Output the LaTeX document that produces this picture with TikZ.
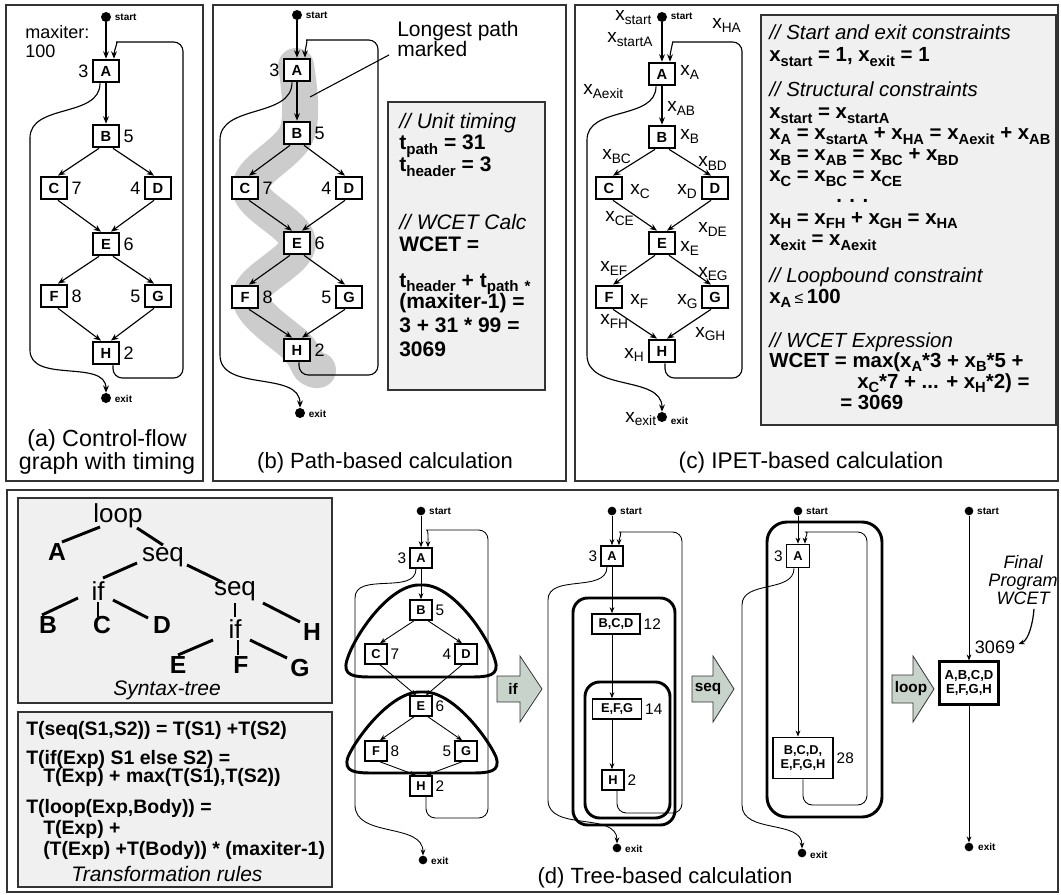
\documentclass[tikz,border=0pt]{standalone}
\usepackage{fontspec}
\setmainfont{Liberation Sans}
\usetikzlibrary{arrows.meta,calc}
\definecolor{frm}{gray}{0.2}
\definecolor{boxg}{gray}{0.94}
\definecolor{bandg}{gray}{0.8}
\definecolor{arrg}{RGB}{200,211,204}
\newcommand\lsb[1]{\raisebox{-0.2em}{\scalebox{0.72}{#1}}}
\newcommand\fs[1]{\fontsize{#1}{#1}\selectfont}
\newcommand\cfgnodes[9]{%
 \node[blk] (#1A) at (#2,#4) {A};
 \node[blk] (#1B) at (#2,#5) {B};
 \node[blk] (#1C) at ({#2-#3},#6) {C};
 \node[blk] (#1D) at ({#2+#3},#6) {D};
 \node[blk] (#1E) at (#2,#7) {E};
 \node[blk] (#1F) at ({#2-#3},#8) {F};
 \node[blk] (#1G) at ({#2+#3},#8) {G};
 \node[blk] (#1H) at (#2,#9) {H};}
\newcommand\cfgw[9]{%
 \node[wt,anchor=east] (#1wA) at (#1A.west) {#2};
 \node[wt,anchor=west] (#1wB) at (#1B.east) {#3};
 \node[wt,anchor=west] (#1wC) at (#1C.east) {#4};
 \node[wt,anchor=east] (#1wD) at (#1D.west) {#5};
 \node[wt,anchor=west] (#1wE) at (#1E.east) {#6};
 \node[wt,anchor=west] (#1wF) at (#1F.east) {#7};
 \node[wt,anchor=east] (#1wG) at (#1G.west) {#8};
 \node[wt,anchor=west] (#1wH) at (#1H.east) {#9};}
\newcommand\cfgedges[1]{%
 \draw[arr] (#1A) -- (#1B);
 \draw[arr] ($(#1B.south)+(-7,0)$) -- ($(#1C.north)+(4,0)$);
 \draw[arr] ($(#1B.south)+(7,0)$) -- ($(#1D.north)+(-4,0)$);
 \draw[arr] ($(#1C.south)+(4,0)$) -- ($(#1E.north)+(-5,0)$);
 \draw[arr] ($(#1D.south)+(-4,0)$) -- ($(#1E.north)+(5,0)$);
 \draw[arr] ($(#1E.south)+(-7,0)$) -- ($(#1F.north)+(4,0)$);
 \draw[arr] ($(#1E.south)+(7,0)$) -- ($(#1G.north)+(-4,0)$);
 \draw[arr] ($(#1F.south)+(4,0)$) -- ($(#1H.north)+(-5,0)$);
 \draw[arr] ($(#1G.south)+(-4,0)$) -- ($(#1H.north)+(5,0)$);}
\tikzset{
 frame/.style={draw=frm, line width=1.4pt},
 tbox/.style={draw=frm, fill=boxg, line width=1.1pt},
 blk/.style={draw, line width=1.5pt, minimum width=19.5pt, minimum height=17pt, inner sep=0pt, font=\fs{11}\bfseries, fill=white},
 sblk/.style={draw, line width=1.2pt, minimum width=16.5pt, minimum height=15pt, inner sep=0pt, font=\fs{9.6}\bfseries, fill=white},
 wt/.style={inner sep=2.5pt, font=\fs{13.5}},
 swt/.style={inner sep=2pt, font=\fs{11.5}},
 dot/.style={circle, fill=black, inner sep=0pt, minimum size=7.5pt},
 sdot/.style={circle, fill=black, inner sep=0pt, minimum size=6.5pt},
 se/.style={font=\fs{7.5}\bfseries, inner sep=1pt, anchor=west},
 arr/.style={-{Stealth[length=5.5pt,width=4.4pt]}, line width=0.85pt},
 sarr/.style={-{Stealth[length=4.5pt,width=3.6pt]}, line width=0.65pt},
 rc/.style={rounded corners=7pt},
 bt/.style={font=\fs{15.75}, inner sep=0pt, anchor=base west},
 ct/.style={font=\fs{15.3}, inner sep=0pt, anchor=base west},
 xl/.style={font=\fs{14.25}, inner sep=0pt, anchor=base west},
 tl/.style={line width=2.2pt},
 tin/.style={font=\fs{19.5}, inner sep=0pt},
 tleaf/.style={font=\fs{18.5}\bfseries, inner sep=0pt},
 rt/.style={font=\fs{14.6}\bfseries, inner sep=0pt, anchor=base west},
 thk/.style={line width=2.2pt, rounded corners=11pt},
 blob/.style={line width=2.2pt},
 barr/.style={draw=frm, fill=arrg, line width=0.6pt},
 capt/.style={inner sep=0pt, align=center},
}
\begin{document}
\begin{tikzpicture}[x=0.75pt,y=-0.75pt]
\useasboundingbox (0,0) rectangle (1061,895);
% frames
\draw[frame] (6,5) rectangle (203,481);
\draw[frame] (213,5) rectangle (566,481);
\draw[frame] (575,5) rectangle (1058,481);
\draw[frame] (7,490) rectangle (1058,892);

%% ---------------- panel (a)
\node[dot] (aS) at (106,17) {};
\node[se] (aSl) at ($(aS.east)+(2,0)$) {start};
\node[wt,anchor=base west,inner sep=0pt] (am1) at (25,39) {maxiter:};
\node[wt,anchor=base west,inner sep=0pt] (am2) at (25,58) {100};
\cfgnodes{a}{106}{52}{71}{136}{188}{244}{296}{353}
\cfgw{a}{3}{5}{7}{4}{6}{8}{5}{2}
\node[dot] (aX) at (106,398) {};
\node[se] (aXl) at ($(aX.east)+(2,1)$) {exit};
\draw[arr] (aS) -- (aA);
\cfgedges{a}
\draw[arr,rc] ($(aH.south)+(7,0)$) |- (183,378) |- (126,42) to[out=180,in=90] ($(aA.north)+(8,0)$);
\draw[arr] ($(aA.south)+(-6,0)$) to[out=-90,in=90] (30,138) -- (30,350) to[out=-90,in=90] (aX.north);
\node[capt,font=\fontsize{17.5}{17.3}\selectfont] (acap) at (107,452) {(a) Control-flow\\graph with timing};

%% ---------------- panel (b)
\draw[line width=27pt, bandg, line cap=round, line join=round] plot[smooth, tension=0.6] coordinates {(296,66) (297,133) (250,188) (298,243) (250,297) (298,348) (310,367) (318,370)};
\node[dot] (bS) at (297,15) {};
\node[se] (bSl) at ($(bS.east)+(2,0)$) {start};
\cfgnodes{b}{297}{52}{70}{133}{188}{243}{297}{350}
\cfgw{b}{3}{5}{7}{4}{6}{8}{5}{2}
\node[dot] (bX) at (300,413) {};
\node[se] (bXl) at ($(bX.east)+(2,1)$) {exit};
\draw[arr] (bS) -- (bA);
\cfgedges{b}
\draw[arr,rc] ($(bH.south)+(2,0)$) |- (378,375) |- (316,40) to[out=180,in=90] ($(bA.north)+(8,0)$);
\draw[arr] ($(bA.south)+(-5,0)$) to[out=-90,in=90] (220,140) -- (220,355) to[out=-90,in=90] (bX.north);
\node[font=\fontsize{15.75}{15}\selectfont, align=left, inner sep=0pt, anchor=north west] (blp) at (397,21) {Longest path\\marked};
\coordinate (bband) at (310,97);
\draw[line width=0.8pt] ($(blp.south west)+(-8,-2)$) -- (bband);
\draw[tbox] (388,102) rectangle (545,390);
\node[bt] (b1) at (399,129) {\itshape // Unit timing};
\node[bt] (b2) at (399,150) {\bfseries t\lsb{path} = 31};
\node[bt] (b3) at (399,172) {\bfseries t\lsb{header} = 3};
\node[bt] (b4) at (399,229) {\itshape // WCET Calc};
\node[bt] (b5) at (399,252) {\bfseries WCET =};
\node[bt] (b6) at (399,287) {\bfseries t\lsb{header} + t\lsb{path} \lsb{*}};
\node[bt] (b7) at (399,309) {\bfseries (maxiter-1) =};
\node[bt] (b8) at (399,332) {\bfseries 3 + 31 * 99 =};
\node[bt] (b9) at (399,356) {\bfseries 3069};
\node[capt,font=\fs{16.5}] (bcap) at (385,463) {(b) Path-based calculation};

%% ---------------- panel (c)
\node[dot] (cS) at (662,17) {};
\node[se] (cSl) at ($(cS.east)+(2,-1)$) {start};
\cfgnodes{c}{662}{53}{74}{137}{188}{243}{297}{351}
\node[dot] (cX) at (662,417) {};
\node[se] (cXl) at ($(cX.east)+(2,4)$) {exit};
\draw[arr] (cS) -- (cA);
\cfgedges{c}
\draw[arr,rc] ($(cH.south)+(3,0)$) |- (742,378) |- (682,42) to[out=180,in=90] ($(cA.north)+(8,0)$);
\draw[arr] ($(cA.south)+(-6,0)$) to[out=-90,in=90] (587,140) -- (587,355) to[out=-90,in=90] (cX.north);
\node[xl] (cl1) at (615,21) {x\lsb{start}};
\node[xl] (cl2) at (607,43) {x\lsb{startA}};
\node[xl] (cl3) at (712,29) {x\lsb{HA}};
\node[xl] (cl4) at (680,76) {x\lsb{A}};
\node[xl] (cl5) at (583,95) {x\lsb{Aexit}};
\node[xl] (cl6) at (667,112) {x\lsb{AB}};
\node[xl] (cl7) at (680,140) {x\lsb{B}};
\node[xl] (cl8) at (602,160) {x\lsb{BC}};
\node[xl] (cl9) at (698,167) {x\lsb{BD}};
\node[xl] (cl10) at (630,195) {x\lsb{C}};
\node[xl] (cl11) at (677,195) {x\lsb{D}};
\node[xl] (cl12) at (605,222) {x\lsb{CE}};
\node[xl] (cl13) at (698,233) {x\lsb{DE}};
\node[xl] (cl14) at (680,252) {x\lsb{E}};
\node[xl] (cl15) at (600,272) {x\lsb{EF}};
\node[xl] (cl16) at (698,277) {x\lsb{EG}};
\node[xl] (cl17) at (630,305) {x\lsb{F}};
\node[xl] (cl18) at (677,305) {x\lsb{G}};
\node[xl] (cl19) at (600,325) {x\lsb{FH}};
\node[xl] (cl20) at (695,337) {x\lsb{GH}};
\node[xl] (cl21) at (624,358) {x\lsb{H}};
\node[xl] (cl22) at (625,422) {x\lsb{exit}};
\draw[tbox] (761,15) rectangle (1056,425);
\node[ct] (c1) at (769,40) {\itshape // Start and exit constraints};
\node[ct] (c2) at (769,62) {\bfseries x\lsb{start} = 1, x\lsb{exit} = 1};
\node[ct] (c3) at (769,97) {\itshape // Structural constraints};
\node[ct] (c4) at (769,119) {\bfseries x\lsb{start} = x\lsb{startA}};
\node[ct] (c5) at (769,140) {\bfseries x\lsb{A} = x\lsb{startA} + x\lsb{HA} = x\lsb{Aexit} + x\lsb{AB}};
\node[ct] (c6) at (769,161) {\bfseries x\lsb{B} = x\lsb{AB} = x\lsb{BC} + x\lsb{BD}};
\node[ct] (c7) at (769,182) {\bfseries x\lsb{C} = x\lsb{BC} = x\lsb{CE}};
\node[ct] (c8) at (836,203) {\bfseries . . .};
\node[ct] (c9) at (769,224) {\bfseries x\lsb{H} = x\lsb{FH} + x\lsb{GH} = x\lsb{HA}};
\node[ct] (c10) at (769,246) {\bfseries x\lsb{exit} = x\lsb{Aexit}};
\node[ct] (c11) at (769,282) {\itshape // Loopbound constraint};
\node[ct] (c12) at (769,303) {\bfseries x\lsb{A}\,{\mdseries\fontsize{12}{12}\selectfont ≤}\,100};
\node[ct] (c13) at (769,347) {\itshape // WCET Expression};
\node[ct] (c14) at (769,367) {\bfseries WCET = max(x\lsb{A}*3 + x\lsb{B}*5 +};
\node[ct] (c15) at (857,388) {\bfseries x\lsb{C}*7 + ... + x\lsb{H}*2) =};
\node[ct] (c16) at (840,409) {\bfseries = 3069};
\node[capt,font=\fs{17}] (ccap) at (811,463) {(c) IPET-based calculation};

%% ---------------- panel (d): syntax tree
\draw[tbox] (18,498) rectangle (332,703);
\node[tin] (tloop) at (118,516) {loop};
\node[tleaf] (tA) at (57,552) {A};
\node[tin] (tseq) at (163,557) {seq};
\node[tin] (tif) at (98,591) {if};
\node[tin] (tseq2) at (235,591) {seq};
\node[tleaf] (tB) at (48,625) {B};
\node[tleaf] (tC) at (102,625) {C};
\node[tleaf] (tD) at (162,625) {D};
\node[tin] (tif2) at (235,629) {if};
\node[tleaf] (tH) at (312,632) {H};
\node[tleaf] (tE) at (178,665) {E};
\node[tleaf] (tF) at (241,665) {F};
\node[tleaf] (tG) at (300,668) {G};
\draw[tl] ($(tloop)+(-18,11)$) -- ($(tA)+(5,-10)$);
\draw[tl] ($(tloop)+(19,12)$) -- ($(tseq)+(0,-12)$);
\draw[tl] ($(tseq)+(-26,6)$) -- ($(tif)+(5,-13)$);
\draw[tl] ($(tseq)+(24,8)$) -- ($(tseq2)+(-13,-9)$);
\draw[tl] ($(tif)+(-20,7)$) -- ($(tB)+(-6,-10)$);
\draw[tl] ($(tif)+(0,11)$) -- ($(tC)+(-4,-8)$);
\draw[tl] ($(tif)+(15,9)$) -- ($(tD)+(-14,-7)$);
\draw[tl] ($(tseq2)+(0,12)$) -- ($(tif2)+(0,-12)$);
\draw[tl] ($(tseq2)+(28,12)$) -- ($(tH)+(-12,-10)$);
\draw[tl] ($(tif2)+(-22,11)$) -- ($(tE)+(0,-10)$);
\draw[tl] ($(tif2)+(3,11)$) -- ($(tF)+(-3,-10)$);
\draw[tl] ($(tif2)+(15,11)$) -- ($(tG)+(-13,-10)$);
\node[font=\fs{15.75}\itshape, inner sep=0pt, anchor=base] (tcap) at (167,695) {Syntax-tree};
% transformation rules
\draw[tbox] (18,712) rectangle (332,887);
\node[rt] (r1) at (26,735) {T(seq(S1,S2)) = T(S1) +T(S2)};
\node[rt] (r2) at (26,764) {T(if(Exp) S1 else S2) =};
\node[rt] (r3) at (43,782) {T(Exp) + max(T(S1),T(S2))};
\node[rt] (r4) at (26,813) {T(loop(Exp,Body)) =};
\node[rt] (r5) at (43,834) {T(Exp) +};
\node[rt] (r6) at (43,855) {(T(Exp) +T(Body)) * (maxiter-1)};
\node[font=\fs{15.75}\itshape, inner sep=0pt, anchor=base] (rcap) at (167,881) {Transformation rules};

%% graph d1
\begin{scope}[blk/.style={sblk}, wt/.style={swt}, arr/.style={sarr}]
\node[sdot] (dS) at (421,511) {};
\node[se] (dSl) at ($(dS.east)+(2,0)$) {start};
\cfgnodes{d}{421}{45}{558}{610}{654}{706}{751}{786}
\cfgw{d}{3}{5}{7}{4}{6}{8}{5}{2}
\node[sdot] (dX) at (423,860) {};
\node[se] (dXl) at ($(dX.east)+(2,1)$) {exit};
\draw[arr] (dS) -- (dA);
\cfgedges{d}
\draw[arr,rc] ($(dH.south)+(5,0)$) |- (488,818) |- (436,530) to[out=180,in=90] ($(dA.north)+(7,0)$);
\draw[arr] ($(dA.south)+(-5,0)$) to[out=-90,in=90] (355,598) -- (355,805) to[out=-90,in=90] (dX.north);
\end{scope}
\draw[blob] (421,585) .. controls (452,583) and (488,636) .. (495,660) .. controls (500,676) and (488,677) .. (470,677) -- (372,677) .. controls (354,677) and (342,676) .. (347,660) .. controls (354,636) and (390,583) .. (421,585) -- cycle;
\draw[blob] (422,692) .. controls (453,690) and (489,740) .. (496,757) .. controls (501,772) and (489,773) .. (471,773) -- (373,773) .. controls (355,773) and (343,772) .. (348,757) .. controls (355,740) and (391,690) .. (422,692) -- cycle;

% block arrows
\filldraw[barr] (497,676) -- (520,676) -- (520,656) -- (542,689) -- (520,722) -- (520,702) -- (497,702) -- cycle;
\node[font=\fs{11.5}\bfseries, inner sep=0pt] (ifl) at (513,689) {if};
\filldraw[barr] (692,676) -- (713,676) -- (713,656) -- (734,689) -- (713,722) -- (713,702) -- (692,702) -- cycle;
\node[font=\fs{11.5}\bfseries, inner sep=0pt] (seql) at (708,689) {seq};
\filldraw[barr] (892,675) -- (913,675) -- (913,656) -- (934,689) -- (913,722) -- (913,703) -- (892,703) -- cycle;
\node[font=\fs{11.5}\bfseries, inner sep=0pt] (loopl) at (911,689) {loop};

%% graph d2
\draw[thk] (573,598) rectangle (675,825);
\draw[thk] (585,682) rectangle (670,818);
\node[sdot] (gS) at (612,511) {};
\node[se] (gSl) at ($(gS.east)+(2,0)$) {start};
\node[sblk] (gA) at (612,556) {A};
\node[sblk, minimum width=36pt] (gB) at (616,624) {B,C,D};
\node[sblk, minimum width=36.75pt] (gE) at (617,709) {E,F,G};
\node[sblk] (gH) at (613,780) {H};
\node[swt,anchor=east] (gw1) at (gA.west) {3};
\node[swt,anchor=west] (gw2) at (gB.east) {12};
\node[swt,anchor=west] (gw3) at (gE.east) {14};
\node[swt,anchor=west] (gw4) at (gH.east) {2};
\node[sdot] (gX) at (617,848) {};
\node[se] (gXl) at ($(gX.east)+(2,1)$) {exit};
\draw[sarr] (gS) -- (gA);
\draw[sarr] (gA.south) -- (gA.south |- gB.north);
\draw[sarr] (gA.south |- gB.south) -- (gA.south |- gE.north);
\draw[sarr] (gA.south |- gE.south) -- (gA.south |- gH.north);
\draw[sarr,rc] ($(gH.south)+(4,0)$) |- (682,813) |- (629,532) to[out=180,in=90] ($(gA.north)+(7,0)$);
\draw[sarr] ($(gA.south)+(-5,0)$) to[out=-90,in=90] (548,600) -- (548,800) to[out=-90,in=90] (gX.north);

%% graph d3
\draw[thk, rounded corners=15pt] (767,522) rectangle (882,817);
\node[sdot] (hS) at (798,511) {};
\node[se] (hSl) at ($(hS.east)+(2,0)$) {start};
\node[sblk, minimum width=17.25pt, minimum height=17.25pt] (hA) at (798,556) {A};
\node[sblk, minimum width=45pt, minimum height=31pt, align=center, font=\fontsize{9.6}{10}\selectfont\bfseries] (hB) at (803,758) {B,C,D,\\E,F,G,H};
\node[swt,anchor=east] (hw1) at (hA.west) {3};
\node[swt,anchor=west] (hw2) at (hB.east) {28};
\node[sdot] (hX) at (802,853) {};
\node[se] (hXl) at ($(hX.east)+(2,2)$) {exit};
\draw[sarr] (hS) -- (hA);
\draw[sarr] (hA.south) -- (hA.south |- hB.north);
\draw[sarr,rc] (hB.south) |- (867,805) |- (815,532) to[out=180,in=90] ($(hA.north)+(7,0)$);
\draw[sarr] ($(hA.south)+(-4,0)$) to[out=-90,in=90] (742,605) -- (742,805) to[out=-90,in=90] (hX.north);

%% graph d4
\node[sdot] (fS) at (969,511) {};
\node[se] (fSl) at ($(fS.east)+(2,0)$) {start};
\node[draw, line width=1.6pt, minimum width=44.25pt, minimum height=32.25pt, align=center, font=\fontsize{9.8}{10.5}\selectfont\bfseries, inner sep=0pt] (fB) at (969,683) {A,B,C,D\\E,F,G,H};
\node[sdot] (fX) at (969,847) {};
\node[se] (fXl) at ($(fX.east)+(3,0)$) {exit};
\draw[sarr] (fS) -- (fB);
\draw[sarr] (fB) -- (fX);
\node[font=\fs{13.5}, inner sep=1pt] (f3069) at (995,647) {3069};
\node[font=\fontsize{13.5}{13.5}\selectfont\itshape, align=center, inner sep=0pt] (fpw) at (1023,580) {Final\\Program\\WCET};
\draw[sarr, line width=0.9pt] ($(fpw.south)+(11,4)$) .. controls +(-1,14) and +(10,-4) .. ($(f3069.north east)+(2,5)$);

\node[capt,font=\fs{16.5}] (dcap) at (665,878) {(d) Tree-based calculation};
\end{tikzpicture}
\end{document}
